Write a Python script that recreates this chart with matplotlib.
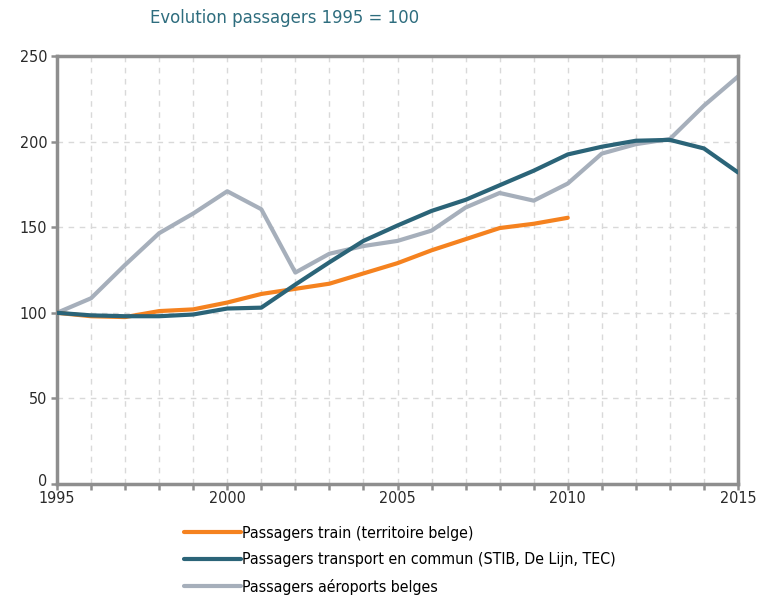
import matplotlib.pyplot as plt
import matplotlib.transforms as mtransforms

# Données (indice 1995 = 100)
annees = list(range(1995, 2016))
annees_train = list(range(1995, 2011))
train = [100, 98, 97.5, 101, 102, 106, 111, 114, 117, 123, 129, 136.5, 143, 149.5, 152, 155.5]
transport = [100, 98.5, 98, 98, 99, 102.5, 103, 116.5, 129.5, 142, 151, 159.5, 166, 174.5, 183, 192.5,
             197, 200.5, 201, 196, 182]
aeroports = [100, 108.5, 128, 146.5, 158, 171, 160.5, 123.5, 134.5, 139, 142, 148, 161.5, 170, 165.5, 175.5,
             193, 198.5, 201.5, 221, 238]

noms = ["Passagers train (territoire belge)",
        "Passagers transport en commun (STIB, De Lijn, TEC)",
        "Passagers aéroports belges"]

plt.rcParams['font.family'] = ['DejaVu Sans']
plt.rcParams['font.stretch'] = 'condensed'

orange = '#F5821F'
bleu = '#2B6478'
gris = '#A6AFBB'
axe = '#8E8E8E'

fig = plt.figure(figsize=(7.65, 5.96), dpi=100)
ax = fig.add_axes([57 / 765, 1 - 484 / 596, (738 - 57) / 765, (484 - 56) / 596])

ax.plot(annees_train, train, color=orange, lw=3, label=noms[0], solid_capstyle='round', zorder=3)
ax.plot(annees, transport, color=bleu, lw=3, label=noms[1], solid_capstyle='round', zorder=4)
ax.plot(annees, aeroports, color=gris, lw=3, label=noms[2], solid_capstyle='round', zorder=2)

ax.set_xlim(1995, 2015)
ax.set_ylim(0, 250)
ax.set_xticks(range(1995, 2016))
ax.set_xticklabels([str(a) if a % 5 == 0 else '' for a in range(1995, 2016)])
ax.set_yticks(range(0, 251, 50))

ax.grid(True, ls=(0, (4, 4)), color='#D9D9D9', lw=1)
ax.set_axisbelow(True)
for s in ax.spines.values():
    s.set_color(axe)
    s.set_linewidth(2.5)
ax.tick_params(axis='both', colors=axe, width=1.8, length=4, labelcolor='#2A2A2A', labelsize=11.5)
ax.tick_params(axis='x', pad=1)
ax.tick_params(axis='y', pad=3)

# le "0" est un peu remonté comme sur l'original pour ne pas toucher "1995"
zero = ax.get_yticklabels()[0]
zero.set_transform(zero.get_transform() + mtransforms.ScaledTranslation(0, 4 / 100, fig.dpi_scale_trans))

fig.text(150 / 765, 1 - 18 / 596, "Evolution passagers 1995 = 100", color='#2E6D7E', fontsize=13.2, va='center')

fig.legend(loc='upper left', bbox_to_anchor=(176 / 765, 1 - 518 / 596), frameon=False, fontsize=11.4,
           handlelength=3.6, handletextpad=0.05, labelspacing=0.72, borderpad=0)

fig.savefig('out.png', dpi=100)
